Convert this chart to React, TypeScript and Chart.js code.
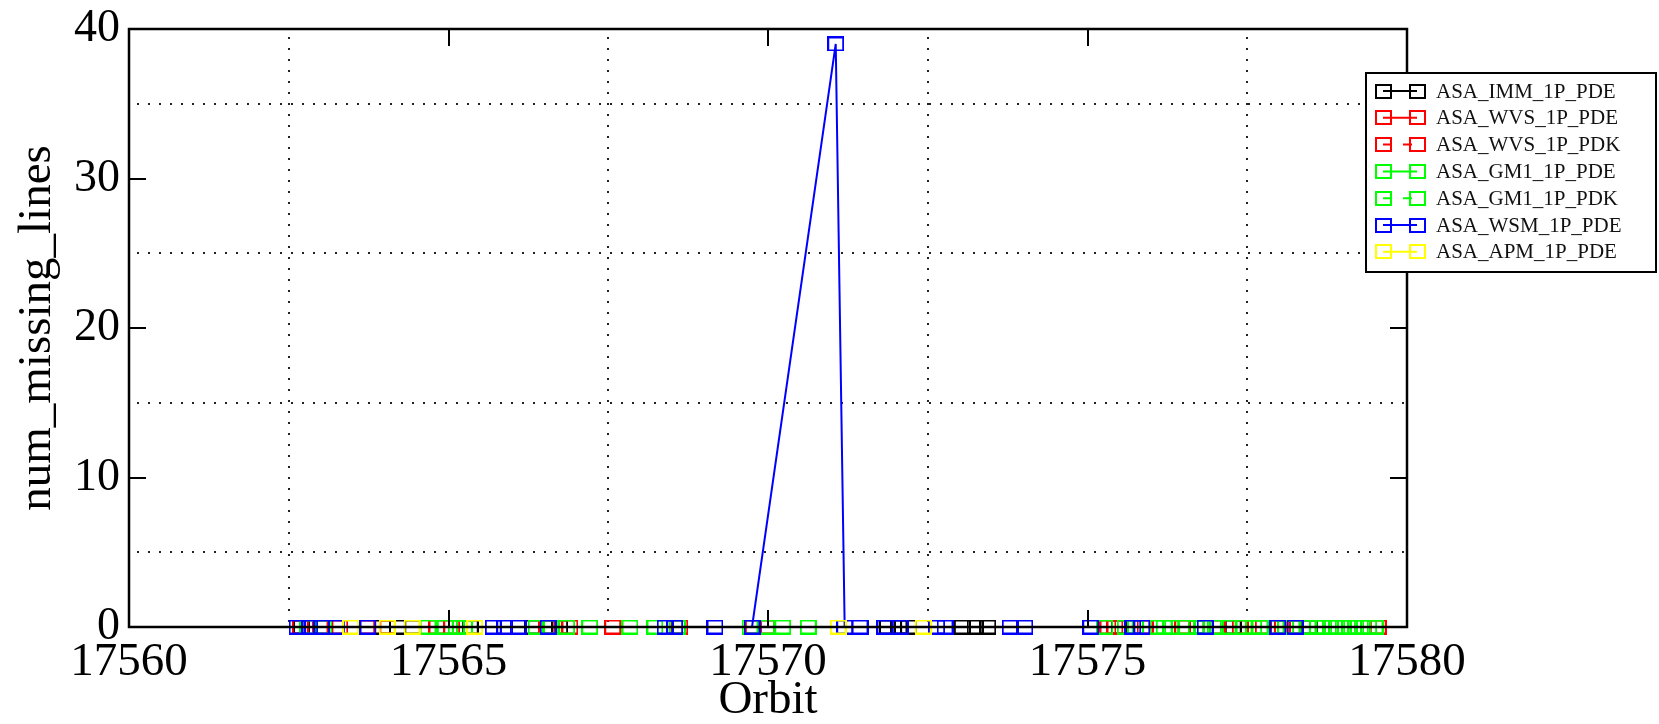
import React, { useEffect, useRef } from "react";
import { Chart, registerables } from "chart.js";

Chart.register(...registerables);

// ---- data ----
const seriesLabels = [
  "ASA_IMM_1P_PDE",
  "ASA_WVS_1P_PDE",
  "ASA_WVS_1P_PDK",
  "ASA_GM1_1P_PDE",
  "ASA_GM1_1P_PDK",
  "ASA_WSM_1P_PDE",
  "ASA_APM_1P_PDE",
];
const seriesColors = ["#000000", "#ff0000", "#ff0000", "#00ff00", "#00ff00", "#0000ff", "#ffff00"];
const seriesDashed = [false, false, true, false, true, false, false];

const immOrbit = [17562.70, 17563.97, 17564.20, 17564.44, 17565.34, 17566.32, 17566.74, 17571.87, 17572.05, 17572.20, 17573.04, 17573.24, 17573.44, 17575.50, 17576.70, 17577.28, 17578.48];
const immMissing = [0, 0, 0, 0, 0, 0, 0, 0, 0, 0, 0, 0, 0, 0, 0, 0, 0];

const wvsPdeOrbit = [17562.68, 17562.99, 17563.72, 17564.05, 17564.82, 17566.54, 17566.90, 17568.62, 17569.77, 17575.32, 17575.90, 17576.49, 17577.03, 17577.75, 17578.22, 17579.55];
const wvsPdeMissing = [0, 0, 0, 0, 0, 0, 0, 0, 0, 0, 0, 0, 0, 0, 0, 0];

const wvsPdkOrbit = [17563.30, 17565.05, 17567.57, 17569.98, 17575.43, 17577.39, 17578.05];
const wvsPdkMissing = [0, 0, 0, 0, 0, 0, 0];

const gm1PdeOrbit = [17563.05, 17564.68, 17564.95, 17565.12, 17566.37, 17566.85, 17567.21, 17567.84, 17568.23, 17568.58, 17569.72, 17570.23, 17570.63, 17575.27, 17575.59, 17576.10, 17576.30, 17576.55, 17576.80, 17577.00, 17577.20, 17577.45, 17577.70, 17577.95, 17578.20, 17578.45, 17578.70, 17578.90, 17579.10, 17579.30, 17579.50];
const gm1PdeMissing = [0, 0, 0, 0, 0, 0, 0, 0, 0, 0, 0, 0, 0, 0, 0, 0, 0, 0, 0, 0, 0, 0, 0, 0, 0, 0, 0, 0, 0, 0, 0];

const gm1PdkOrbit = [17562.80, 17565.25, 17566.60, 17569.98, 17575.75, 17576.20, 17576.70, 17577.60, 17578.10, 17578.60, 17578.80, 17579.00, 17579.20, 17579.40];
const gm1PdkMissing = [0, 0, 0, 0, 0, 0, 0, 0, 0, 0, 0, 0, 0, 0];

const wsmOrbit = [17562.63, 17562.83, 17563.02, 17563.24, 17563.74, 17565.70, 17565.88, 17566.09, 17566.56, 17568.39, 17568.54, 17569.17, 17569.75, 17571.06, 17571.20, 17571.44, 17571.83, 17572.07, 17572.64, 17572.77, 17573.79, 17574.02, 17575.05, 17575.71, 17575.85, 17576.84, 17577.98, 17578.25];
const wsmMissing = [0, 0, 0, 0, 0, 0, 0, 0, 0, 0, 0, 0, 0, 39, 0, 0, 0, 0, 0, 0, 0, 0, 0, 0, 0, 0, 0, 0];

const apmOrbit = [17563.47, 17564.04, 17564.43, 17565.41, 17571.10, 17572.43];
const apmMissing = [0, 0, 0, 0, 0, 0];

const seriesOrbits = [immOrbit, wvsPdeOrbit, wvsPdkOrbit, gm1PdeOrbit, gm1PdkOrbit, wsmOrbit, apmOrbit];
const seriesValues = [immMissing, wvsPdeMissing, wvsPdkMissing, gm1PdeMissing, gm1PdkMissing, wsmMissing, apmMissing];

const xTickMin = 17560;
const xTickMax = 17580;
const yTickMin = 0;
const yTickMax = 40;

const FONT = "'Liberation Serif', 'Times New Roman', serif";

function makeMarker(color: string): HTMLCanvasElement {
  const c = document.createElement("canvas");
  c.width = 17;
  c.height = 15;
  const g = c.getContext("2d")!;
  g.strokeStyle = color;
  g.lineWidth = 2;
  g.strokeRect(1, 1, 15, 13);
  return c;
}

const gracePlugin = {
  id: "graceDecor",
  beforeDatasetsDraw(chart: any) {
    const { ctx, chartArea: a, scales } = chart;
    const x = scales.x;
    const y = scales.y;
    ctx.save();
    ctx.strokeStyle = "#222";
    ctx.lineWidth = 2;
    ctx.setLineDash([2, 9]);
    for (const t of x.ticks) {
      if (Math.abs(t.value % 5) > 1e-6) {
        const px = Math.round(x.getPixelForValue(t.value));
        ctx.beginPath();
        ctx.moveTo(px, a.top + 8);
        ctx.lineTo(px, a.bottom);
        ctx.stroke();
      }
    }
    for (const t of y.ticks) {
      if (Math.abs(t.value % 10) > 1e-6) {
        const py = Math.round(y.getPixelForValue(t.value));
        ctx.beginPath();
        ctx.moveTo(a.left + 8, py);
        ctx.lineTo(a.right, py);
        ctx.stroke();
      }
    }
    ctx.restore();
  },
  afterDatasetsDraw(chart: any) {
    const { ctx, chartArea: a, scales } = chart;
    const x = scales.x;
    const y = scales.y;
    ctx.save();
    ctx.strokeStyle = "#000";
    ctx.setLineDash([]);
    ctx.lineWidth = 2;
    const tl = 17;
    for (const t of x.ticks) {
      if (Math.abs(t.value % 5) < 1e-6) {
        const px = Math.round(x.getPixelForValue(t.value));
        ctx.beginPath();
        ctx.moveTo(px, a.bottom);
        ctx.lineTo(px, a.bottom - tl);
        ctx.moveTo(px, a.top);
        ctx.lineTo(px, a.top + tl);
        ctx.stroke();
      }
    }
    for (const t of y.ticks) {
      if (Math.abs(t.value % 10) < 1e-6) {
        const py = Math.round(y.getPixelForValue(t.value));
        ctx.beginPath();
        ctx.moveTo(a.left, py);
        ctx.lineTo(a.left + tl, py);
        ctx.moveTo(a.right, py);
        ctx.lineTo(a.right - tl, py);
        ctx.stroke();
      }
    }
    ctx.lineWidth = 2.5;
    ctx.strokeRect(a.left, a.top, a.right - a.left, a.bottom - a.top);
    ctx.restore();
  },
  afterDraw(chart: any) {
    const { ctx } = chart;
    const ds = chart.data.datasets;
    const bx = 1366, by = 73, bw = 290, bh = 199;
    ctx.save();
    ctx.fillStyle = "#fff";
    ctx.fillRect(bx, by, bw, bh);
    ctx.strokeStyle = "#000";
    ctx.lineWidth = 2;
    ctx.setLineDash([]);
    ctx.strokeRect(bx, by, bw, bh);
    const x1 = 1383, x2 = 1417;
    for (let i = 0; i < ds.length; i++) {
      const d = ds[i];
      const cy = 91 + i * 26.8;
      ctx.strokeStyle = d.borderColor;
      ctx.lineWidth = 2;
      ctx.setLineDash(d.borderDash && d.borderDash.length ? [9, 11] : []);
      ctx.beginPath();
      ctx.moveTo(x1, cy);
      ctx.lineTo(x2, cy);
      ctx.stroke();
      ctx.setLineDash([]);
      const m = d.pointStyle as HTMLCanvasElement;
      ctx.drawImage(m, Math.round(x1 - m.width / 2), Math.round(cy - m.height / 2));
      ctx.drawImage(m, Math.round(x2 - m.width / 2), Math.round(cy - m.height / 2));
      ctx.fillStyle = "#111";
      ctx.font = `21px ${FONT}`;
      ctx.textBaseline = "middle";
      ctx.textAlign = "left";
      ctx.fillText(d.label, 1436, cy + 1);
    }
    ctx.restore();
  },
};

export default function App() {
  const ref = useRef<HTMLCanvasElement | null>(null);
  useEffect(() => {
    if (!ref.current) return;
    const datasets = seriesLabels.map((label, i) => ({
      label,
      data: seriesOrbits[i].map((o, k) => ({ x: o, y: seriesValues[i][k] })),
      borderColor: seriesColors[i],
      backgroundColor: "transparent",
      borderWidth: 2,
      borderDash: seriesDashed[i] ? [6, 8] : [],
      pointStyle: makeMarker(seriesColors[i]),
      pointRadius: 8,
      showLine: true,
      tension: 0,
      clip: false as any,
      order: seriesLabels.length - 1 - i,
    }));
    const chart = new Chart(ref.current, {
      type: "line",
      data: { datasets },
      options: {
        animation: false,
        responsive: false,
        events: [],
        layout: { padding: { left: 0, top: 29, right: 252, bottom: 0 } },
        plugins: { legend: { display: false }, tooltip: { enabled: false } },
        scales: {
          x: {
            type: "linear",
            min: xTickMin,
            max: xTickMax,
            grid: { display: false, drawTicks: false },
            border: { display: false },
            ticks: {
              stepSize: 2.5,
              autoSkip: false,
              maxRotation: 0,
              padding: 7,
              color: "#000",
              font: { family: FONT, size: 47 },
              callback: (v: any) => (Math.abs(Number(v) % 5) < 1e-6 ? String(v) : ""),
            },
            title: {
              display: true,
              text: "Orbit",
              color: "#000",
              font: { family: FONT, size: 47 },
              padding: { top: 0, bottom: -5 },
            },
            afterFit: (s: any) => {
              s.height = 97;
              s.paddingLeft = 0;
              s.paddingRight = 0;
            },
          },
          y: {
            type: "linear",
            min: yTickMin,
            max: yTickMax,
            grid: { display: false, drawTicks: false },
            border: { display: false },
            ticks: {
              stepSize: 5,
              autoSkip: false,
              padding: 9,
              color: "#000",
              font: { family: FONT, size: 46 },
              callback: (v: any) => (Math.abs(Number(v) % 10) < 1e-6 ? String(v) : ""),
            },
            title: {
              display: true,
              text: "num_missing_lines",
              color: "#000",
              font: { family: FONT, size: 47 },
              padding: { top: 9, bottom: 0 },
            },
            afterFit: (s: any) => {
              s.width = 129;
              s.paddingTop = 0;
              s.paddingBottom = 0;
            },
          },
        },
      },
      plugins: [gracePlugin],
    });
    return () => chart.destroy();
  }, []);
  return (
    <div style={{ position: "absolute", left: 0, top: 0, width: 1659, height: 724 }}>
      <canvas ref={ref} width={1659} height={724} style={{ display: "block" }} />
    </div>
  );
}
